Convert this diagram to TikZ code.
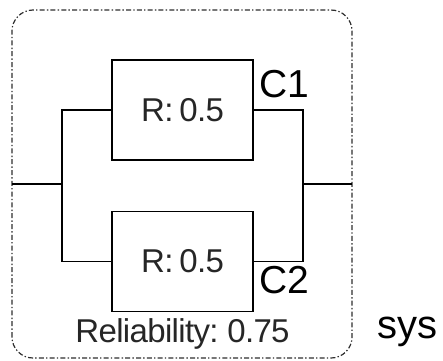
\documentclass[tikz,border=0pt]{standalone}
\usepackage{fontspec}
\setmainfont{Liberation Sans}
\newfontfamily\tightfont{Liberation Sans}[LetterSpace=-2.0, WordSpace=0.7]
\usetikzlibrary{positioning}
\usepackage{xcolor}
\definecolor{FrameGray}{HTML}{2E2E2E}
\definecolor{TextGray}{HTML}{262626}

\begin{document}
\begin{tikzpicture}[
    x=1pt, y=1pt,
    block/.style={draw=black, line width=1.5pt, minimum width=141pt, minimum height=100pt,
                  inner sep=0pt, font=\tightfont\fontsize{33}{33}\selectfont, text=TextGray},
    wire/.style={line width=1.5pt},
    tag/.style={inner sep=0pt, font=\fontsize{39}{39}\selectfont},
    node distance=50pt
  ]
    \useasboundingbox (0,0) rectangle (443,360);
    % frame of the system
    \draw[FrameGray, line width=1.2pt, rounded corners=21pt,
          dash pattern=on 5pt off 2.2pt on 1.4pt off 2.2pt] (12,2) rectangle (352,350);

    \node[block] (c1) at (182.5,250) {R: 0.5};
    \node[block, below=of c1] (c2) {R: 0.5};

    \coordinate (in)  at (12,176);
    \coordinate (jl)  at (62,176);
    \coordinate (jr)  at (303,176);
    \coordinate (out) at (352,176);

    \draw[wire] (in) -- (jl);
    \draw[wire] (c1.west) -| (jl) |- (c2.west);
    \draw[wire] (c1.east) -| (jr) |- (c2.east);
    \draw[wire] (jr) -- (out);

    \node[tag, anchor=base west] (c1lbl) at (259,263) {C1};
    \node[tag, anchor=base west] (c2lbl) at (259,67) {C2};
    \node[inner sep=0pt, anchor=base, text=TextGray, font=\tightfont\fontsize{33}{33}\selectfont]
      (rel) at (182.5,18) {Reliability: 0.75};
    \node[tag, anchor=base west, font=\fontsize{40}{40}\selectfont] (sys) at (377,22) {sys};
  \end{tikzpicture}
\end{document}
